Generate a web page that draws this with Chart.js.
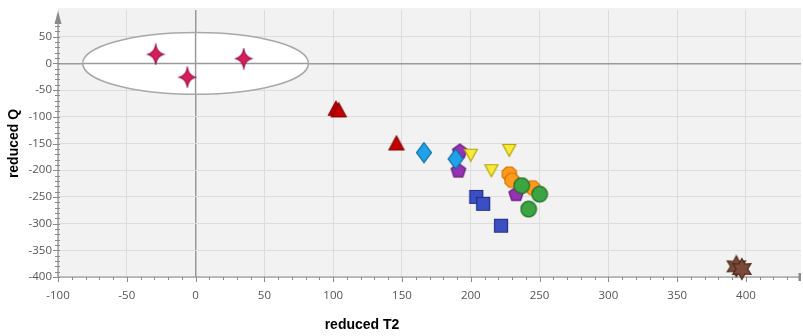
<!DOCTYPE html>
<html>
<head>
<meta charset="utf-8">
<script src="https://cdn.jsdelivr.net/npm/chart.js@4/dist/chart.umd.min.js"></script>
<style>
  html, body { margin: 0; padding: 0; background: #ffffff; }
  #wrap { width: 803px; height: 336px; }
</style>
</head>
<body>
<div id="wrap"><canvas id="c" width="803" height="336"></canvas></div>
<script>
// ---- values (reduced T2, reduced Q) ----
const crimsonStars   = [[-29, 17], [-6, -26], [35, 9]];
const redTriangles   = [[102, -85], [104, -88], [146, -150]];
const blueDiamonds   = [[166, -167], [189, -179]];
const purplePentagons= [[192, -165], [191, -201], [233, -245]];
const yellowTriangles= [[200, -171], [215, -200], [228, -162]];
const orangeHexagons = [[228, -207], [230, -219], [245, -233]];
const greenCircles   = [[237, -229], [250, -245], [242, -273]];
const blueSquares    = [[204, -250], [209, -263], [222, -304]];
const brownStars     = [[393, -380], [397, -385]];

// confidence ellipse: centre and semi-axes in data units
const ellipseCenter = [0, 0];
const ellipseRadii  = [82, 58];

// axis ranges, tick labels and titles
const xRange = [-100, 440];
const yRange = [-400, 100];
const xTickLabels = [-100, -50, 0, 50, 100, 150, 200, 250, 300, 350, 400];
const yTickLabels = [-400, -350, -300, -250, -200, -150, -100, -50, 0, 50];
const xTitle = 'reduced T2';
const yTitle = 'reduced Q';

const toPts = arr => arr.map(([x, y]) => ({ x, y }));

// ---- marker glyphs ----
function glyph(w, h, fill, stroke, pathFn) {
  const c = document.createElement('canvas');
  c.width = w; c.height = h;
  const g = c.getContext('2d');
  g.beginPath();
  pathFn(g, w / 2, h / 2);
  g.closePath();
  g.fillStyle = fill; g.fill();
  g.lineWidth = 1.2; g.strokeStyle = stroke; g.stroke();
  return c;
}
function starPath(n, ro, ri, rot) {
  return (g, cx, cy) => {
    for (let i = 0; i < 2 * n; i++) {
      const r = i % 2 === 0 ? ro : ri;
      const a = rot + i * Math.PI / n;
      const px = cx + r * Math.cos(a), py = cy + r * Math.sin(a);
      if (i === 0) g.moveTo(px, py); else g.lineTo(px, py);
    }
  };
}
// four-pointed star with concave sides
function sparklePath(rx, ry) {
  return (g, cx, cy) => {
    const k = 0.18;
    g.moveTo(cx, cy - ry);
    g.quadraticCurveTo(cx + rx * k, cy - ry * k, cx + rx, cy);
    g.quadraticCurveTo(cx + rx * k, cy + ry * k, cx, cy + ry);
    g.quadraticCurveTo(cx - rx * k, cy + ry * k, cx - rx, cy);
    g.quadraticCurveTo(cx - rx * k, cy - ry * k, cx, cy - ry);
  };
}
function polyPath(n, r, rot) {
  return (g, cx, cy) => {
    for (let i = 0; i < n; i++) {
      const a = rot + i * 2 * Math.PI / n;
      const px = cx + r * Math.cos(a), py = cy + r * Math.sin(a);
      if (i === 0) g.moveTo(px, py); else g.lineTo(px, py);
    }
  };
}
const star4Img   = glyph(20, 22, '#d81e5b', '#9a1240', sparklePath(8, 9.5));
const pentagonImg= glyph(18, 18, '#9632b4', '#64187e', polyPath(5, 7.6, -Math.PI / 2));
const hexagonImg = glyph(18, 18, '#ff9a1c', '#d27200', polyPath(8, 7.6, Math.PI / 8));
const star6Img   = glyph(24, 24, '#7a4a3a', '#4a2818', starPath(6, 10.5, 5.8, -Math.PI / 2));
const diamondImg = glyph(18, 22, '#1fa2ea', '#0d6aa2', (g, cx, cy) => {
  g.moveTo(cx, cy - 10); g.lineTo(cx + 7.5, cy); g.lineTo(cx, cy + 10); g.lineTo(cx - 7.5, cy);
});
const triUpImg   = glyph(20, 18, '#c40000', '#840000', (g, cx, cy) => {
  g.moveTo(cx, cy - 7.5); g.lineTo(cx + 7.5, cy + 6.5); g.lineTo(cx - 7.5, cy + 6.5);
});
const triDownImg = glyph(16, 16, '#f7ea3c', '#b5a400', (g, cx, cy) => {
  g.moveTo(cx - 6.5, cy - 5.5); g.lineTo(cx + 6.5, cy - 5.5); g.lineTo(cx, cy + 6.5);
});
const squareImg  = glyph(16, 16, '#3b4fc2', '#22308c', (g, cx, cy) => {
  g.rect(cx - 6.5, cy - 6.5, 13, 13);
});
const circleImg  = glyph(18, 18, '#3ca443', '#1f6e26', (g, cx, cy) => {
  g.arc(cx, cy, 7.8, 0, Math.PI * 2);
});

// bottom-most group first, top-most last
const groups = [
  { label: 'A', data: crimsonStars,    img: star4Img },
  { label: 'B', data: redTriangles,    img: triUpImg },
  { label: 'C', data: purplePentagons, img: pentagonImg },
  { label: 'D', data: blueDiamonds,    img: diamondImg },
  { label: 'E', data: yellowTriangles, img: triDownImg },
  { label: 'F', data: orangeHexagons,  img: hexagonImg },
  { label: 'G', data: greenCircles,    img: circleImg },
  { label: 'H', data: blueSquares,     img: squareImg },
  { label: 'I', data: brownStars,      img: star6Img }
];
const datasets = groups.map((g, i) => ({
  label: g.label,
  data: toPts(g.data),
  pointStyle: g.img,
  pointRadius: 8,
  pointHoverRadius: 8,
  clip: false,
  order: groups.length - i
}));

const titleFont = { family: 'Liberation Sans', size: 14, weight: 'bold' };

// ---- plot background, ellipse, axes with arrow and minor ticks ----
const decor = {
  id: 'decor',
  beforeDraw(chart) {
    const { ctx, chartArea: a } = chart;
    ctx.save();
    ctx.fillStyle = '#f2f2f2';
    ctx.fillRect(a.left, a.top - 2, a.right - a.left, a.bottom - a.top + 2);
    ctx.restore();
  },
  beforeDatasetsDraw(chart) {
    const { ctx, scales: { x, y } } = chart;
    const cx = x.getPixelForValue(ellipseCenter[0]);
    const cy = y.getPixelForValue(ellipseCenter[1]);
    const rx = Math.abs(x.getPixelForValue(ellipseCenter[0] + ellipseRadii[0]) - cx);
    const ry = Math.abs(y.getPixelForValue(ellipseCenter[1] + ellipseRadii[1]) - cy);
    ctx.save();
    ctx.beginPath();
    ctx.ellipse(cx, cy, rx, ry, 0, 0, Math.PI * 2);
    ctx.fillStyle = '#ffffff';
    ctx.fill();
    // zero lines pass through the ellipse
    ctx.clip();
    ctx.strokeStyle = '#9a9a9a'; ctx.lineWidth = 1.5;
    ctx.beginPath();
    ctx.moveTo(x.getPixelForValue(0), cy - ry); ctx.lineTo(x.getPixelForValue(0), cy + ry);
    ctx.moveTo(cx - rx, y.getPixelForValue(0)); ctx.lineTo(cx + rx, y.getPixelForValue(0));
    ctx.stroke();
    ctx.restore();
    ctx.save();
    ctx.beginPath();
    ctx.ellipse(cx, cy, rx, ry, 0, 0, Math.PI * 2);
    ctx.strokeStyle = '#a8a8a8'; ctx.lineWidth = 1.5;
    ctx.stroke();

    // axes
    const a = chart.chartArea;
    ctx.strokeStyle = '#8a8a8a'; ctx.lineWidth = 1.2;
    ctx.beginPath();
    ctx.moveTo(a.left, a.bottom); ctx.lineTo(a.left, a.top + 8);
    ctx.moveTo(a.left, a.bottom); ctx.lineTo(a.right, a.bottom);
    ctx.stroke();
    // arrow head on the vertical axis
    ctx.fillStyle = '#8a8a8a';
    ctx.beginPath();
    ctx.moveTo(a.left, a.top + 1);
    ctx.lineTo(a.left + 3.5, a.top + 14);
    ctx.lineTo(a.left - 3.5, a.top + 14);
    ctx.closePath(); ctx.fill();
    // end cap on the horizontal axis
    ctx.fillRect(a.right - 2.5, a.bottom - 4, 2.5, 8);

    // minor / major tick marks
    ctx.strokeStyle = '#8a8a8a'; ctx.lineWidth = 1;
    ctx.beginPath();
    for (let v = yRange[0]; v <= 80; v += 10) {
      const py = Math.round(y.getPixelForValue(v)) + 0.5;
      const len = v % 50 === 0 ? 5 : 3;
      ctx.moveTo(a.left - len, py); ctx.lineTo(a.left + 2, py);
    }
    for (let v = xRange[0]; v < xRange[1]; v += 10) {
      const px = Math.round(x.getPixelForValue(v)) + 0.5;
      const len = v % 50 === 0 ? 5 : 3;
      ctx.moveTo(px, a.bottom); ctx.lineTo(px, a.bottom + len);
    }
    ctx.stroke();
    ctx.restore();
  },
  afterDraw(chart) {
    // horizontal axis title sits left of the plot centre
    const { ctx, chartArea: a } = chart;
    ctx.save();
    ctx.font = `${titleFont.weight} ${titleFont.size}px "${titleFont.family}"`;
    ctx.fillStyle = '#000';
    ctx.textAlign = 'center';
    ctx.textBaseline = 'middle';
    ctx.fillText(xTitle, a.left + 304, chart.height - 11);
    ctx.restore();
  }
};

const tickFont = { family: 'Open Sans', size: 11.5 };
const gridColor = ctx => (ctx.tick && ctx.tick.value === 0 ? '#9a9a9a' : '#dcdcdc');
const gridWidth = ctx => (ctx.tick && ctx.tick.value === 0 ? 1.5 : 1);
const noEdgePadding = s => { s.paddingLeft = 0; s.paddingRight = 0; s.paddingTop = 0; s.paddingBottom = 0; };

new Chart(document.getElementById('c'), {
  type: 'scatter',
  data: { datasets },
  options: {
    responsive: false,
    animation: false,
    events: [],
    layout: { autoPadding: false, padding: { top: 10, right: 2, left: 0, bottom: 0 } },
    plugins: { legend: { display: false }, tooltip: { enabled: false } },
    scales: {
      x: {
        type: 'linear',
        min: xRange[0], max: xRange[1],
        afterBuildTicks: s => { s.ticks = xTickLabels.map(v => ({ value: v })); },
        afterFit: s => { s.height = 59; noEdgePadding(s); },
        ticks: { color: '#555', font: tickFont, padding: 12, maxRotation: 0 },
        grid: { drawTicks: false, color: gridColor, lineWidth: gridWidth },
        border: { display: false },
        title: { display: false }
      },
      y: {
        type: 'linear',
        min: yRange[0], max: yRange[1],
        afterBuildTicks: s => { s.ticks = yTickLabels.map(v => ({ value: v })); },
        afterFit: s => { s.width = 58; noEdgePadding(s); },
        ticks: { color: '#555', font: tickFont, padding: 6 },
        grid: { drawTicks: false, color: gridColor, lineWidth: gridWidth },
        border: { display: false },
        title: { display: true, text: yTitle, color: '#000', font: titleFont, padding: { top: 6, bottom: 0 } }
      }
    }
  },
  plugins: [decor]
});
</script>
</body>
</html>
